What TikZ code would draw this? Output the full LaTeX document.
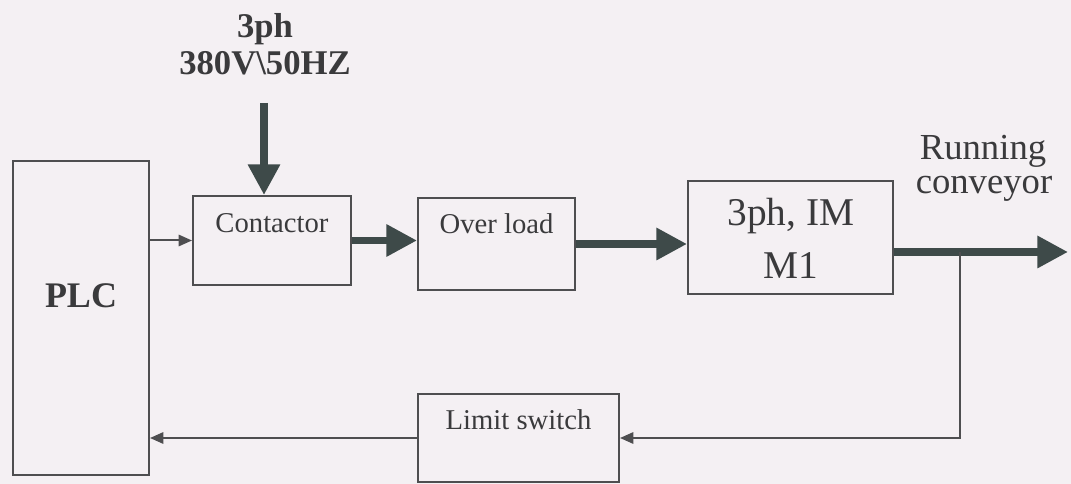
\documentclass[tikz,border=0pt]{standalone}
\usepackage{fontspec}
\setmainfont{Liberation Serif}
\usetikzlibrary{arrows.meta}
\definecolor{bg}{HTML}{F4F0F3}
\definecolor{ln}{HTML}{4E4E50}
\definecolor{dk}{HTML}{3E4A49}
\definecolor{tx}{HTML}{3A3A3C}
\tikzset{
  blk/.style={draw=ln, line width=1.5pt, inner sep=0pt},
  lbl/.style={text=tx, inner sep=0pt, anchor=base},
  thin/.style={draw=ln, line width=1.5pt, -{Triangle[length=10pt,width=8.5pt]}},
  fat/.style={draw=dk, line width=5.5pt, -{Triangle[length=23pt,width=23pt]}},
}
\begin{document}
\begin{tikzpicture}[x=0.75pt,y=-0.75pt]
\fill[bg] (0,0) rectangle (1071,484);
\useasboundingbox (0,0) rectangle (1071,484);
% boxes
\node[blk, minimum width=102pt, minimum height=235.5pt] (plc) at (81,318) {};
\node[blk, minimum width=118.5pt, minimum height=66.75pt] (contactor) at (272,240.5) {};
\node[blk, minimum width=117.75pt, minimum height=69pt] (overload) at (496.5,244) {};
\node[blk, minimum width=153.75pt, minimum height=84.75pt] (motor) at (790.5,237.5) {};
\node[blk, minimum width=150.75pt, minimum height=66pt] (limit) at (518.5,438) {};
% texts
\node[lbl, font=\fontsize{27}{30}\selectfont\bfseries] (plct) at (81,308) {PLC};
\node[lbl, font=\fontsize{21.5}{24}\selectfont] (cont) at (272,233) {Contactor};
\node[lbl, font=\fontsize{21.5}{24}\selectfont] (olt) at (496.5,234) {Over load};
\node[lbl, font=\fontsize{29.5}{32}\selectfont] (mt1) at (791,226) {3ph, IM};
\node[lbl, font=\fontsize{29.5}{32}\selectfont] (mt2) at (791,279) {M1};
\node[lbl, font=\fontsize{21.5}{24}\selectfont] (lst) at (518.5,430) {Limit switch};
\node[lbl, font=\fontsize{26}{28}\selectfont\bfseries] (ph) at (265,38) {3ph};
\node[lbl, font=\fontsize{26}{28}\selectfont\bfseries] (volt) at (265,75) {380V\textbackslash 50HZ};
\node[lbl, font=\fontsize{27.5}{30}\selectfont] (run) at (983,160) {Running};
\node[lbl, font=\fontsize{27.5}{30}\selectfont] (conv) at (984,194) {conveyor};
% connectors
\coordinate (src) at (264,103);
\coordinate (out) at (1068,252);
\coordinate (tap) at (960,252);
\draw[fat] (src) -- (src |- contactor.north);
\draw[fat] (contactor.east) -- (contactor.east -| overload.west);
\draw[fat] (overload.east) -- (overload.east -| motor.west);
\draw[fat] (motor.east |- out) -- (out);
\draw[thin] (contactor.west -| plc.east) -- (contactor.west);
\draw[thin] (tap) |- (limit.east);
\draw[thin] (limit.west) -- (limit.west -| plc.east);
\end{tikzpicture}
\end{document}
